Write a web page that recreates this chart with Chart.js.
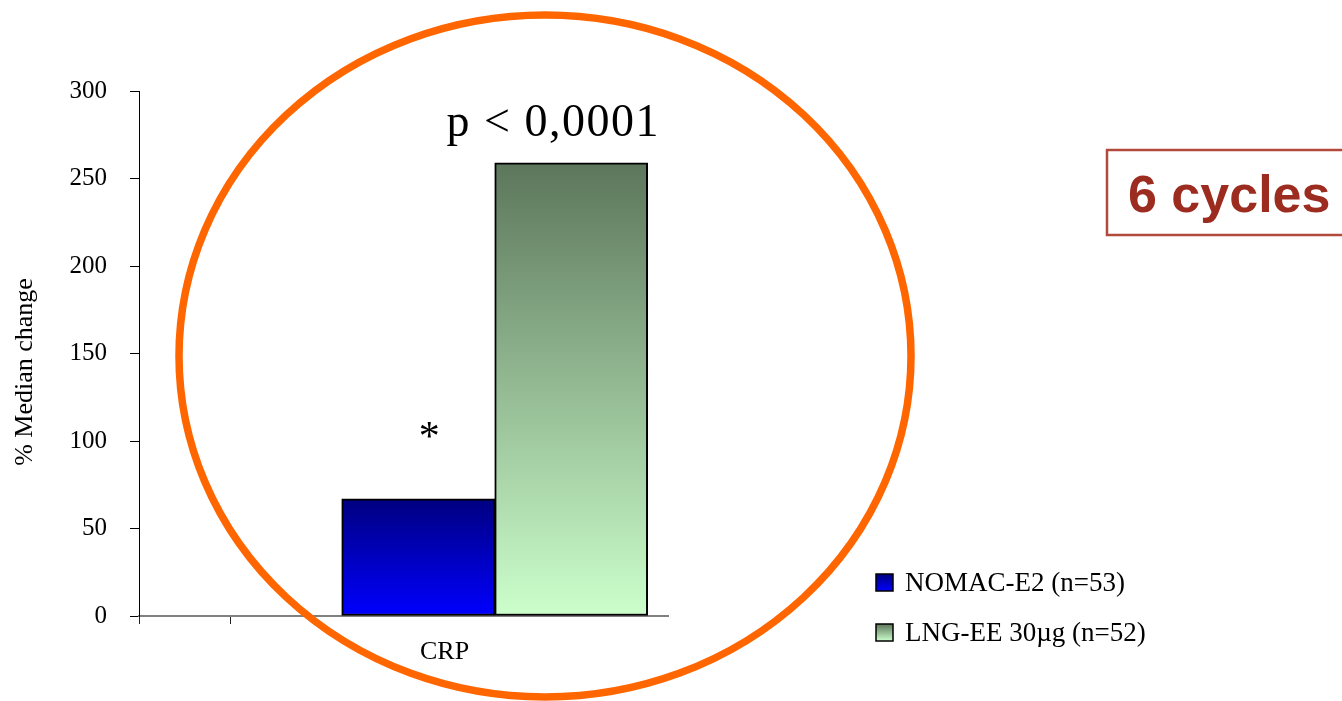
<!DOCTYPE html>
<html>
<head>
<meta charset="utf-8">
<title>CRP – % median change</title>
<script src="https://cdn.jsdelivr.net/npm/chart.js@4/dist/chart.umd.min.js"></script>
<style>
  html, body { margin: 0; padding: 0; background: #ffffff; }
  #wrap { position: relative; width: 1342px; height: 701px; }
</style>
</head>
<body>
<div id="wrap"><canvas id="chart"></canvas></div>
<script>
// ---- data ----
const categories = ['CRP'];
const seriesNames = ['NOMAC-E2 (n=53)', 'LNG-EE 30µg (n=52)'];
const nomacValues = [67];
const lngValues = [259];
const yTicks = [0, 50, 100, 150, 200, 250, 300];
const yTitle = '% Median change';
const pValueText = 'p < 0,0001';
const starText = '*';
const badgeText = '6 cycles';

// ---- styling ----
const SERIF = '"Liberation Serif", "DejaVu Serif", serif';
const SANS = '"Liberation Sans", Arial, sans-serif';
// vertical gradient for each series: [top colour, bottom colour]
const seriesGradients = [
  ['#000080', '#0000ff'],
  ['#5c765b', '#ccffcc']
];

// x positions on the linear index axis
const X_MAX = 5.8;
const GROUP_X = 3.9;
const LABEL_X = 3.35;
const TICK_XS = [0, 1];

function barGradient(ctx, i) {
  const chart = ctx.chart;
  const stops = seriesGradients[i];
  if (!chart.chartArea || ctx.type !== 'data') return stops[1];
  const ys = chart.scales.y;
  const top = ys.getPixelForValue(ctx.raw.y);
  const bottom = ys.getPixelForValue(0);
  const g = chart.ctx.createLinearGradient(0, top, 0, bottom);
  g.addColorStop(0, stops[0]);
  g.addColorStop(1, stops[1]);
  return g;
}

const seriesValues = [nomacValues, lngValues];
const datasets = seriesValues.map((vals, i) => ({
  label: seriesNames[i],
  data: vals.map(v => ({ x: GROUP_X, y: v })),
  backgroundColor: ctx => barGradient(ctx, i),
  borderColor: '#000000',
  borderWidth: 2,
  borderSkipped: false,
  barThickness: 153
}));

// decorations: axis title, ring, legend, annotations and the cycle badge
const overlayPlugin = {
  id: 'overlay',
  afterDraw(chart) {
    const c = chart.ctx;
    const b0 = chart.getDatasetMeta(0).data[0];
    const b1 = chart.getDatasetMeta(1).data[0];
    c.save();

    // y-axis title, set slightly below the middle of the axis
    c.save();
    c.translate(25, 372);
    c.rotate(-Math.PI / 2);
    c.fillStyle = '#000000';
    c.textAlign = 'center';
    c.textBaseline = 'middle';
    c.font = '26px ' + SERIF;
    c.fillText(yTitle, 0, 0);
    c.restore();

    // significance marks
    c.fillStyle = '#000000';
    c.textAlign = 'center';
    c.textBaseline = 'alphabetic';
    c.font = '46px ' + SERIF;
    c.letterSpacing = '1.5px';
    c.fillText(pValueText, b1.x - 18, b1.y - 27);
    c.letterSpacing = '0px';
    c.font = '42px ' + SERIF;
    c.fillText(starText, b0.x + 11, b0.y - 49);

    // legend
    c.textAlign = 'left';
    c.font = '27px ' + SERIF;
    seriesNames.forEach((name, i) => {
      const bx = 876, by = 574 + i * 50, s = 17;
      const g = c.createLinearGradient(0, by, 0, by + s);
      g.addColorStop(0, seriesGradients[i][0]);
      g.addColorStop(1, seriesGradients[i][1]);
      c.fillStyle = g;
      c.fillRect(bx, by, s, s);
      c.strokeStyle = '#000000';
      c.lineWidth = 1.5;
      c.strokeRect(bx, by, s, s);
      c.fillStyle = '#000000';
      c.fillText(name, 905, by + 17);
    });

    // badge
    c.strokeStyle = '#b24a3c';
    c.lineWidth = 2.5;
    c.strokeRect(1107, 150, 260, 85);
    c.fillStyle = '#9b2c1f';
    c.font = 'bold 52px ' + SANS;
    c.fillText(badgeText, 1128, 212);

    // highlight ring
    c.strokeStyle = '#ff6600';
    c.lineWidth = 7.5;
    c.beginPath();
    c.ellipse(545, 356, 366, 341, 0, 0, Math.PI * 2);
    c.stroke();

    c.restore();
  }
};

new Chart(document.getElementById('chart'), {
  type: 'bar',
  data: { datasets },
  plugins: [overlayPlugin],
  options: {
    responsive: true,
    maintainAspectRatio: false,
    animation: false,
    layout: { padding: { left: 0, top: 91, right: 674, bottom: 35 } },
    plugins: {
      legend: { display: false },
      tooltip: { enabled: false }
    },
    scales: {
      x: {
        type: 'linear',
        min: 0,
        max: X_MAX,
        offset: false,
        afterBuildTicks(scale) {
          scale.ticks = TICK_XS.map(v => ({ value: v })).concat([{ value: LABEL_X }]);
        },
        afterFit(scale) { scale.height = 50; },
        ticks: {
          autoSkip: false,
          maxRotation: 0,
          padding: 13,
          color: '#000000',
          font: { family: SERIF, size: 26 },
          callback: (v, i) => (i === TICK_XS.length ? categories[0] : '')
        },
        grid: {
          offset: false,
          drawOnChartArea: false,
          drawTicks: true,
          tickLength: 8,
          tickWidth: 1,
          tickColor: ctx => (ctx.index === TICK_XS.length ? 'rgba(0,0,0,0)' : '#222222')
        },
        border: { display: true, color: '#808080', width: 2 }
      },
      y: {
        min: 0,
        max: 300,
        afterBuildTicks(scale) {
          scale.ticks = yTicks.map(v => ({ value: v }));
        },
        afterFit(scale) { scale.width = 139; },
        ticks: {
          padding: 23,
          color: '#000000',
          font: { family: SERIF, size: 25 }
        },
        grid: {
          drawOnChartArea: false,
          drawTicks: true,
          tickLength: 9,
          tickColor: '#000000'
        },
        border: { display: true, color: '#000000', width: 1 },
        title: { display: false }
      }
    }
  }
});
</script>
</body>
</html>
